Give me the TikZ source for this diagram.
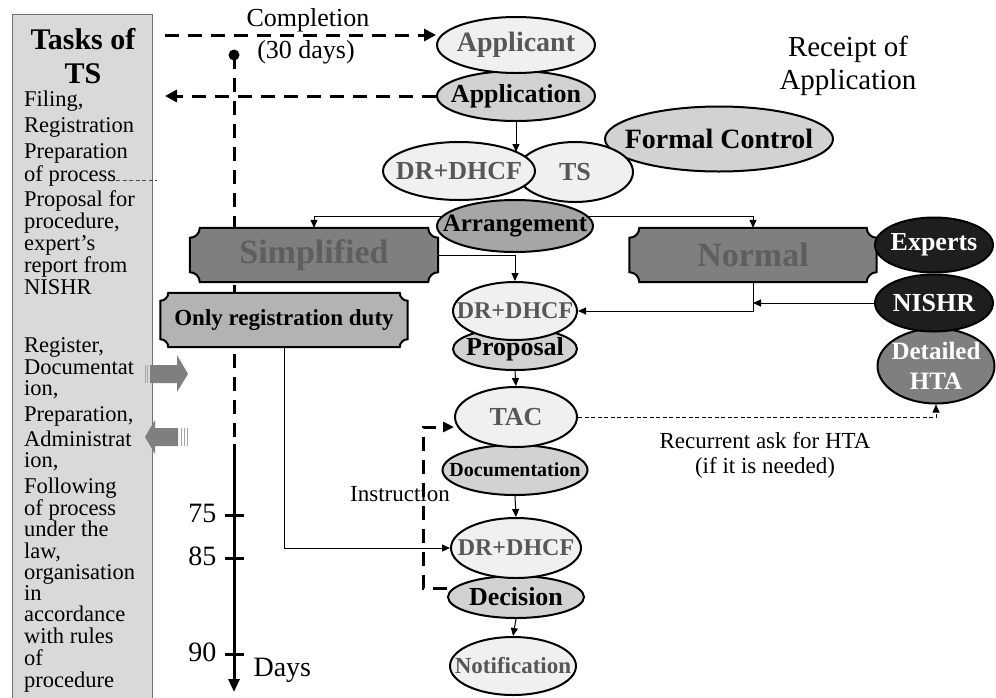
\documentclass[tikz,border=0pt]{standalone}
\usepackage{fontspec}
\setmainfont{Liberation Serif}
\usepackage{xcolor}
\usetikzlibrary{arrows.meta,shapes.geometric,backgrounds}
\definecolor{palefill}{HTML}{F0F0F0}
\definecolor{lightfill}{HTML}{D2D2D2}
\definecolor{midfill}{HTML}{A6A6A6}
\definecolor{dullfill}{HTML}{B3B3B3}
\definecolor{darkfill}{HTML}{7F7F7F}
\definecolor{inkfill}{HTML}{1E1E1E}
\definecolor{greytext}{HTML}{575757}
\definecolor{dulltext}{HTML}{5E5E5E}
\definecolor{panelfill}{HTML}{D9D9D9}
\tikzset{
  ov/.style 2 args={ellipse,draw,line width=2pt,inner sep=0pt,minimum width=#1,minimum height=#2,
    font=\bfseries\fontsize{26}{28}\selectfont},
  pale/.style={fill=palefill,text=greytext},
  light/.style={fill=lightfill},
  mid/.style={fill=midfill},
  ink/.style={fill=inkfill,text=white},
  board/.style={inner sep=0pt,minimum width=#1,font=\bfseries\fontsize{34}{36}\selectfont,text=dulltext},
  ln/.style={line width=1pt,-{Triangle[length=8pt,width=7pt]}},
  dsh/.style={line width=3pt,dash pattern=on 14pt off 9pt},
  dsharr/.style={dsh,-{Triangle[length=12pt,width=12pt]}},
  thindsh/.style={line width=0.8pt,dash pattern=on 4pt off 2.5pt},
  panel/.style={anchor=base west,inner sep=0pt,font=\fontsize{22.5}{23}\selectfont},
  note/.style={align=center,font=\fontsize{#1}{#1}\selectfont},
  tick/.style={line width=3pt}
}
\newcommand{\cbox}[1]{\makebox[0pt]{#1}}
% notched board drawn round a node
\newcommand{\plaque}[3]{%
  \filldraw[fill=#2,line width=2pt]
    ([xshift=#3]#1.north west) -- ([xshift=-#3]#1.north east)
    arc[start angle=180,end angle=270,radius=#3] -- ([yshift=#3]#1.south east)
    arc[start angle=90,end angle=180,radius=#3] -- ([xshift=#3]#1.south west)
    arc[start angle=0,end angle=90,radius=#3] -- ([yshift=-#3]#1.north west)
    arc[start angle=270,end angle=360,radius=#3] -- cycle;}

\begin{document}
\begin{tikzpicture}[x=1pt,y=-1pt]
\useasboundingbox (0,0) rectangle (996,697);

% panel of tasks
\node[anchor=base,font=\bfseries\fontsize{30}{32}\selectfont] (tasks) at (83,49) {Tasks of};
\node[anchor=base,font=\bfseries\fontsize{30}{32}\selectfont] (ts0) at (83,83) {TS};
\foreach \y/\t [count=\i] in {106/{Filing,},132/Registration,158/Preparation,181/{of process},
    206/{Proposal for},228/{procedure,},250/{expert’s},272/{report from},294/NISHR,
    352/{Register,},374/Documentat,395/{ion,},421/{Preparation,},446/Administrat,467/{ion,},
    493/Following,515/{of process},536/{under the},558/{law,},579/organisation,600/in,
    621/accordance,643/{with rules},665/of,687/procedure}
  \node[panel] (task\i) at (24,\y) {\t};
\coordinate (edge) at (157,180);
\draw[thindsh,black!70] (task4.base east) ++(0,-1) -- (edge);

% block arrows at the panel
\fill[darkfill] (150,365) -- (177,365) -- (177,355) -- (188,374) -- (177,392) -- (177,383) -- (150,383) -- cycle;
\draw[black!35,line width=0.8pt] (145,365) -- (145,383) (147.5,365) -- (147.5,383);
\fill[darkfill] (145,437) -- (155,420) -- (155,428) -- (178,428) -- (178,446) -- (155,446) -- (155,454) -- cycle;
\draw[black!35,line width=0.8pt] (181,428) -- (181,446) (184,428) -- (184,446) (187,428) -- (187,446);

% top row
\node[ov={158}{50},light] (application) at (516,96) {\cbox{Application}};
\node[ov={158}{56},pale,font=\bfseries\fontsize{28}{30}\selectfont] (applicant) at (516,45) {\cbox{Applicant}};
\node[note=29] (receipt) at (848,66) {Receipt of\\[4pt]Application};
\node[note=26] (completion) at (308,20) {Completion};
\node[note=26] (days30) at (306,52) {(30 days)};
\coordinate (cstart) at (165,35);
\draw[dsharr] (cstart) -- (cstart -| applicant.west);
\draw[dsharr] (application.west) -- (application.west -| cstart);

% control and arrangement
\node[ov={228}{65},light,font=\bfseries\fontsize{28}{30}\selectfont] (formal) at (719,139) {\cbox{Formal Control}};
\node[ov={156}{52},mid,font=\bfseries\fontsize{25}{27}\selectfont] (arrange) at (515,226) {\cbox{Arrangement}};
\node[ov={116}{60},pale] (ts) at (575,172) {\cbox{TS}};
\node[ov={152}{58},pale] (drA) at (459,171) {\cbox{DR+DHCF}};
\coordinate (split) at (516,152);
\draw[ln] (application.south) -- (split);

% procedures
\node[board=248,minimum height=54] (simple) at (314,255) {Simplified};
\node[board=247,minimum height=54] (normal) at (753,255) {Normal};
\node[inner sep=0pt,minimum width=247,minimum height=54,font=\bfseries\fontsize{23}{25}\selectfont] (onlyreg) at (284,320) {Only registration duty};

% time line
\coordinate (tl0) at (234,55);
\coordinate (tl1) at (234,442);
\coordinate (tl2) at (234,444);
\coordinate (tl3) at (234,692);
\begin{scope}[on background layer]
  \draw[fill=panelfill,draw=black!55,line width=1pt] (12,14) rectangle (152,703);
  \draw[dsh] (tl0) -- (tl1);
  \plaque{simple}{darkfill}{10pt}
  \plaque{normal}{darkfill}{10pt}
  \plaque{onlyreg}{dullfill}{8pt}
\end{scope}
\fill (tl0) circle[radius=5.5pt];
\draw[line width=3pt,-{Triangle[length=13pt,width=11pt]}] (tl2) -- (tl3);
\foreach \y/\d in {515/75,558/85,654/90}{
  \draw[tick] (225,\y) -- (244,\y);
  \node[note=28,anchor=east] (day\d) at (220,\y-2) {\d};
}
\node[note=28,anchor=west] (days) at (250,670) {Days};

% experts side
\node[ov={117}{75},fill=darkfill,text=white,align=center,inner xsep=-5pt,
  font=\bfseries\fontsize{25}{30}\selectfont] (hta) at (936,366) {Detailed\\HTA};
\node[ov={118}{57},ink] (nishr) at (934,303) {\cbox{NISHR}};
\node[ov={118}{55},ink] (experts) at (934,245) {\cbox{Experts}};

% centre column
\node[ov={124}{42},light] (proposal) at (515,349) {\cbox{Proposal}};
\node[ov={124}{58},pale,font=\bfseries\fontsize{24}{26}\selectfont] (drB) at (515,311) {\cbox{DR+DHCF}};
\node[ov={145}{50},light,font=\bfseries\fontsize{20}{22}\selectfont] (docu) at (515,470) {\cbox{Documentation}};
\node[ov={122}{60},pale] (tac) at (516,417) {\cbox{TAC}};
\node[ov={136}{42},light] (decision) at (516,597) {\cbox{Decision}};
\node[ov={130}{60},pale,font=\bfseries\fontsize{24}{26}\selectfont] (drC) at (516,548) {\cbox{DR+DHCF}};
\node[ov={126}{58},pale,font=\bfseries\fontsize{23}{25}\selectfont] (notif) at (513,666) {\cbox{Notification}};

% connectors
\draw[ln] (arrange.173) -| (simple.north);
\draw[ln] (arrange.7) -| (normal.north);
\draw[ln] (simple.east) -| (drB.north);
\draw[ln] (normal.south) |- (drB.east);
\draw[ln] (nishr.west) -- (nishr.west -| normal.south);
\draw[ln] (proposal.south) -- (tac.north);
\draw[ln] (docu.south) -- (drC.north);
\draw[ln] (decision.south) -- (notif.north);
\draw[ln] (onlyreg.south) |- (drC.west);
\draw[thindsh,-{Triangle[length=8pt,width=7pt]}] (tac.east) -| (hta.south);
\draw[dsh,-{Triangle[length=11pt,width=10pt]}] ([yshift=9pt]decision.west) -- ++(-24,0) |- ([yshift=-10pt]tac.west);
\node[note=23] (instr) at (400,494) {Instruction};
\node[note=23] (recur) at (765,455) {Recurrent ask for HTA\\[2pt](if it is needed)};
\end{tikzpicture}
\end{document}
